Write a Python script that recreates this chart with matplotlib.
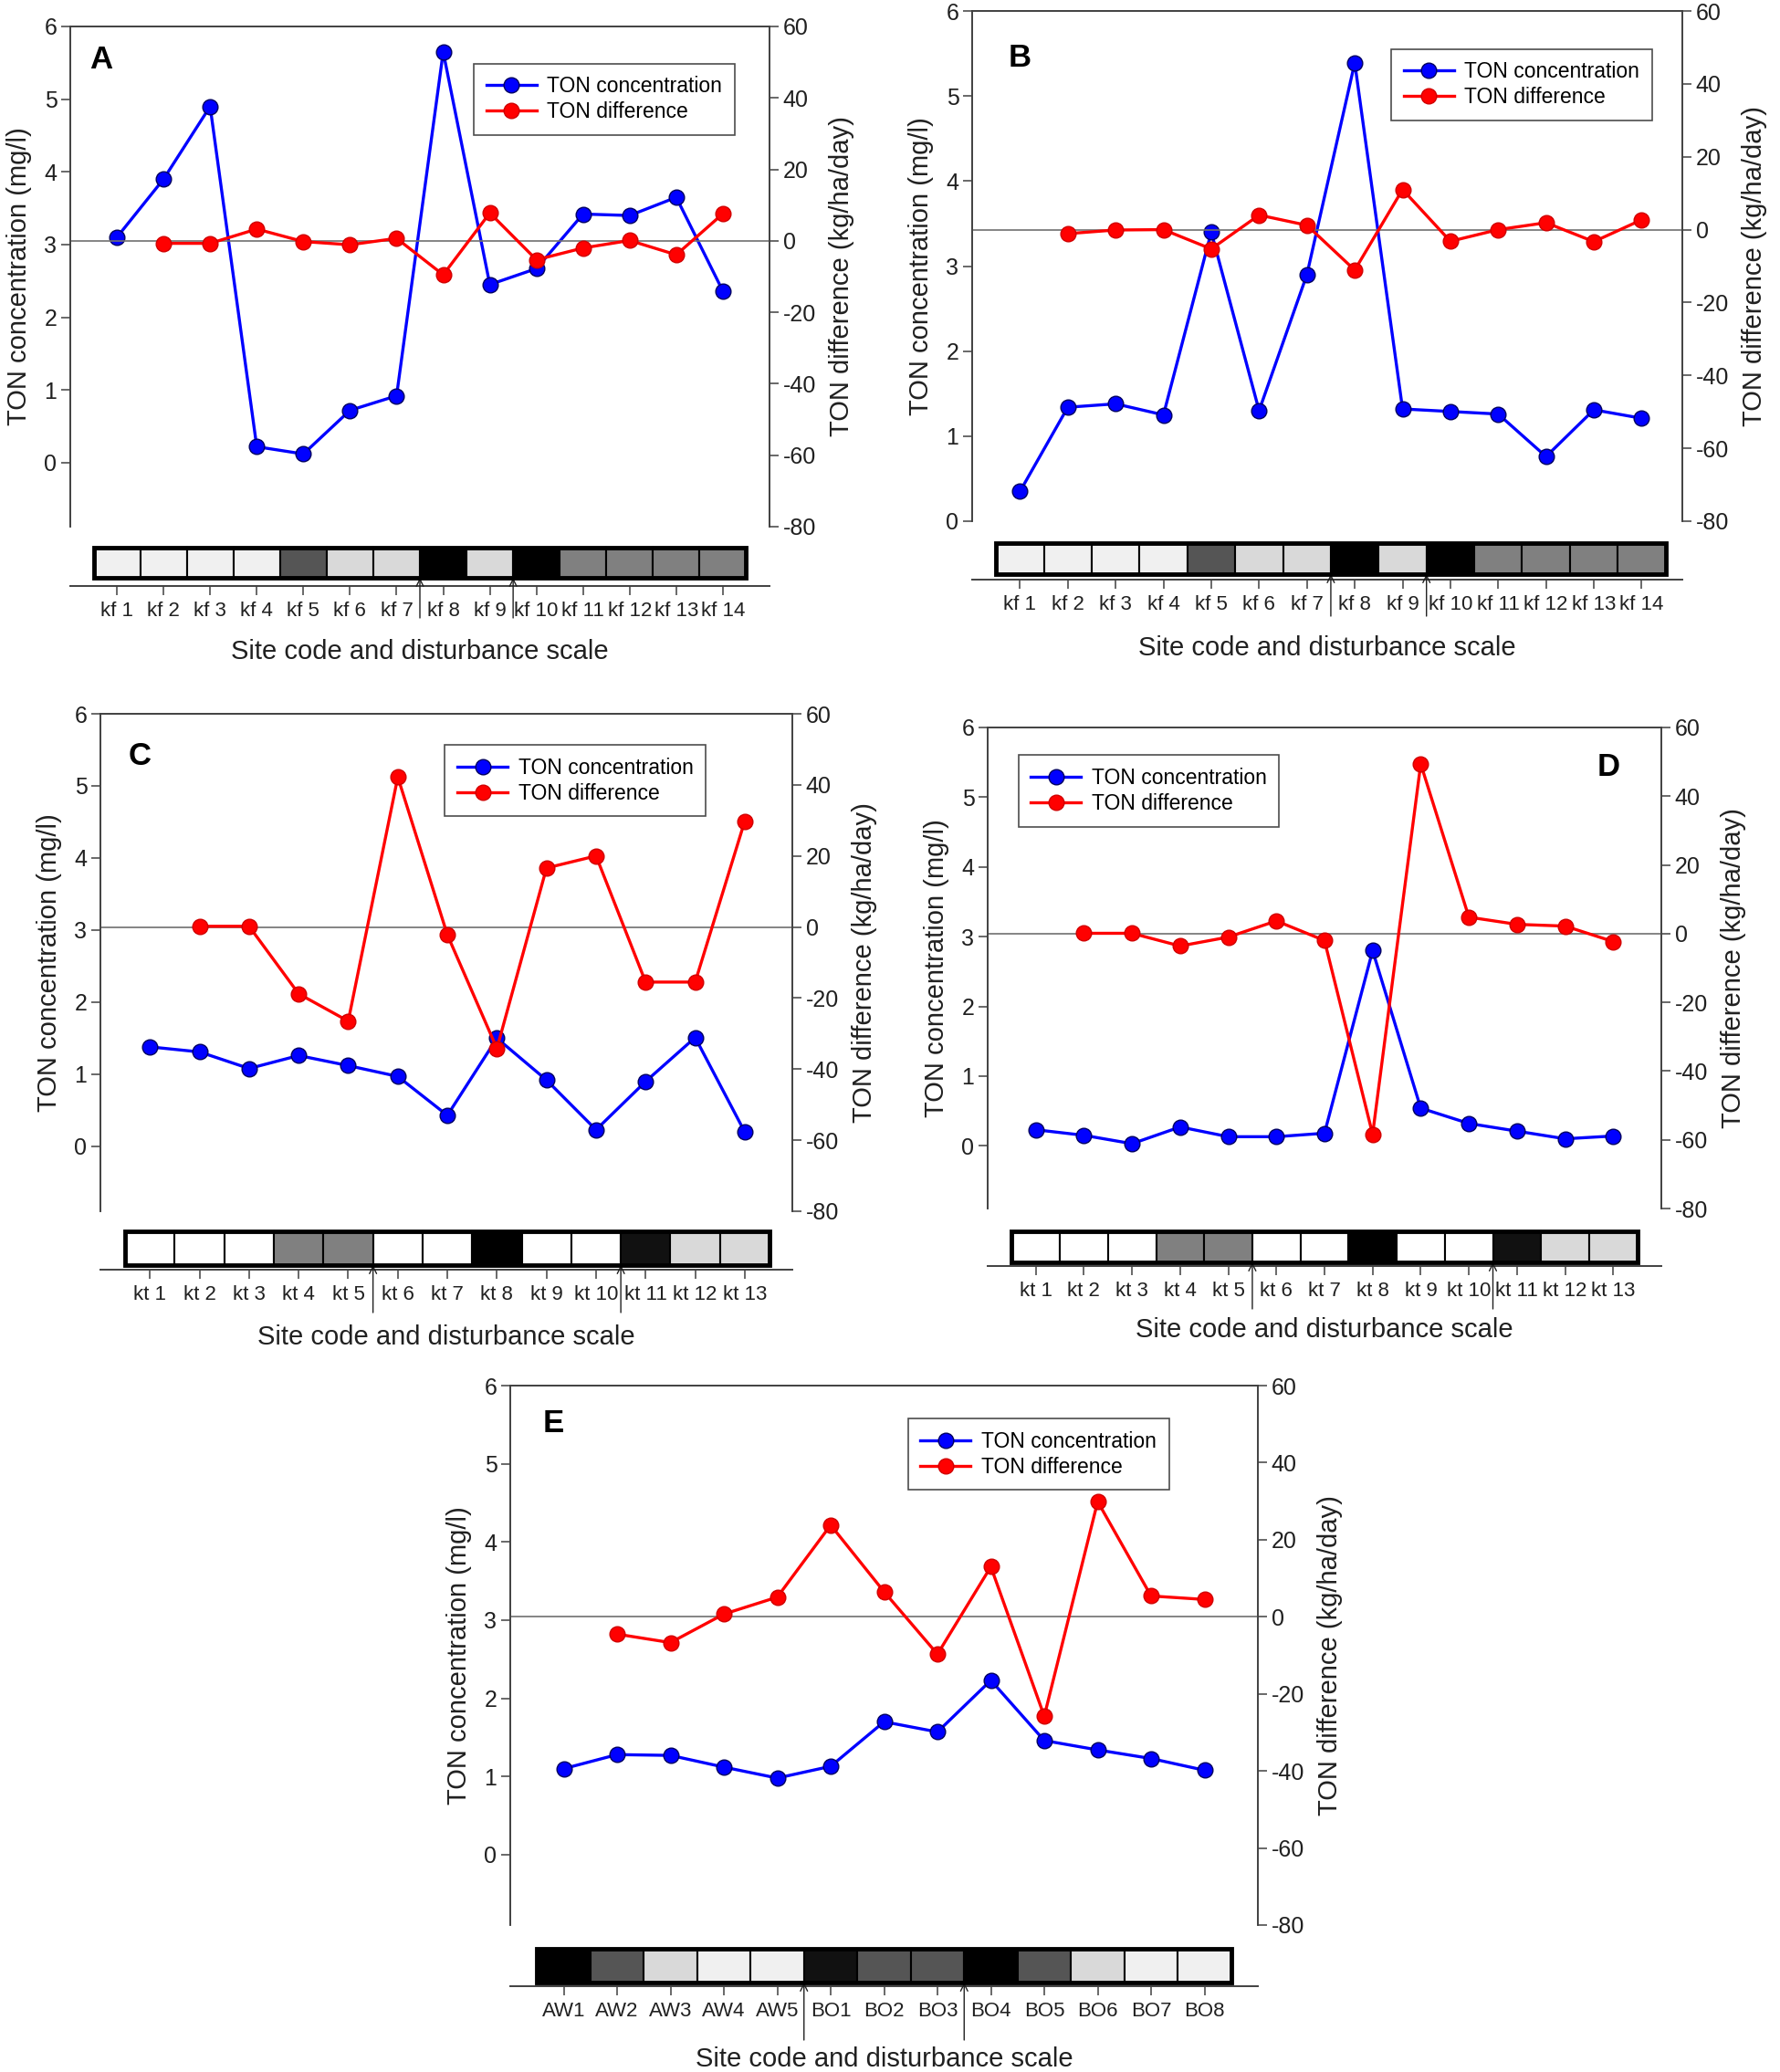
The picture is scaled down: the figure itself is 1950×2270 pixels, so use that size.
import numpy as np
import matplotlib
matplotlib.use("Agg")
import matplotlib.pyplot as plt
from matplotlib.patches import Rectangle
from matplotlib.lines import Line2D

plt.rcParams['font.family'] = ['Liberation Sans', 'DejaVu Sans']
plt.rcParams['axes.unicode_minus'] = False

W, H = 1950, 2270
nan = np.nan

# ---- data ----
kf_sites = ['kf 1', 'kf 2', 'kf 3', 'kf 4', 'kf 5', 'kf 6', 'kf 7',
            'kf 8', 'kf 9', 'kf 10', 'kf 11', 'kf 12', 'kf 13', 'kf 14']
kt_sites = ['kt 1', 'kt 2', 'kt 3', 'kt 4', 'kt 5', 'kt 6', 'kt 7',
            'kt 8', 'kt 9', 'kt 10', 'kt 11', 'kt 12', 'kt 13']
e_sites = ['AW1', 'AW2', 'AW3', 'AW4', 'AW5', 'BO1', 'BO2',
           'BO3', 'BO4', 'BO5', 'BO6', 'BO7', 'BO8']

a_conc = [3.10, 3.90, 4.90, 0.22, 0.12, 0.72, 0.92, 5.65, 2.45, 2.67, 3.42, 3.40, 3.65, 2.36]
a_diff = [nan, -0.7, -0.7, 3.3, -0.2, -1.1, 0.7, -9.5, 7.8, -5.3, -2.0, 0.1, -3.9, 7.6]

b_conc = [0.35, 1.34, 1.38, 1.25, 3.40, 1.30, 2.90, 5.39, 1.32, 1.29, 1.26, 0.76, 1.31, 1.21]
b_diff = [nan, -1.1, -0.1, 0.0, -5.3, 4.0, 1.2, -11.1, 11.0, -3.2, 0.0, 1.9, -3.3, 2.7]

c_conc = [1.38, 1.31, 1.08, 1.26, 1.12, 0.97, 0.43, 1.50, 0.92, 0.23, 0.90, 1.51, 0.20]
c_diff = [nan, 0.2, 0.2, -18.8, -26.5, 42.2, -2.2, -34.2, 16.6, 20.0, -15.5, -15.5, 29.8]

d_conc = [0.23, 0.15, 0.03, 0.27, 0.13, 0.13, 0.18, 2.80, 0.54, 0.32, 0.21, 0.10, 0.14]
d_diff = [nan, 0.1, 0.1, -3.6, -1.0, 3.7, -2.0, -58.4, 49.4, 4.8, 2.7, 2.2, -2.3]

e_conc = [1.10, 1.28, 1.27, 1.12, 0.98, 1.13, 1.70, 1.57, 2.23, 1.46, 1.34, 1.23, 1.08]
e_diff = [nan, -4.5, -6.7, 0.7, 5.1, 23.8, 6.5, -9.7, 13.0, -25.8, 29.9, 5.4, 4.5]

# disturbance scale shades
VL, LG, MG, DG, BK, NB, WH = '#f0f0f0', '#d9d9d9', '#808080', '#555555', '#000000', '#111111', '#ffffff'
kf_shades = [VL, VL, VL, VL, DG, LG, LG, BK, LG, BK, MG, MG, MG, MG]
kt_shades = [WH, WH, WH, MG, MG, WH, WH, BK, WH, WH, NB, LG, LG]
e_shades = [BK, DG, LG, VL, VL, NB, DG, DG, BK, DG, LG, VL, VL]

kf_arrows = [6.5, 8.5]
kt_arrows = [4.5, 9.5]
e_arrows = [4.5, 7.5]

BLUE = '#0000ff'
RED = '#ff0000'
SPINE = '#404040'
TXT = '#202020'


def box(l, r, t, b):
    return [l / W, 1 - b / H, (r - l) / W, (b - t) / H]


def panel(fig, letter, sites, conc, diff, shades, arrows, main, strip,
          arrow_bottom, xlabel_y, ylow, xhigh, leg_loc, leg_anchor, letter_pos):
    n = len(sites)
    x = np.arange(n)
    l, r, t, b = main
    ax = fig.add_axes(box(l, r, t, b))
    ax2 = ax.twinx()

    ax.plot(x, conc, '-o', color=BLUE, lw=2.4, ms=12, mfc=BLUE, mec='#000060', mew=1)
    ax2.plot(x, diff, '-o', color=RED, lw=2.4, ms=12, mfc=RED, mec='#d00000', mew=1)
    ax2.axhline(0, color='#707070', lw=1.2, zorder=0)

    ax.set_xlim(-1, xhigh)
    ax.set_ylim(ylow, 6)
    ax2.set_ylim(-80, 60)
    ax.set_yticks([0, 1, 2, 3, 4, 5, 6])
    ax2.set_yticks([-80, -60, -40, -20, 0, 20, 40, 60])
    ax.set_xticks([])
    for a in (ax, ax2):
        a.spines['bottom'].set_visible(False)
        for s in ('left', 'right', 'top'):
            a.spines[s].set_color(SPINE)
            a.spines[s].set_linewidth(1.2)
        a.tick_params(axis='y', labelsize=18, length=7, width=1.1, color=SPINE,
                      labelcolor=TXT)
    ax.set_ylabel('TON concentration (mg/l)', fontsize=21, color=TXT, labelpad=10)
    ax2.set_ylabel('TON difference (kg/ha/day)', fontsize=21, color=TXT, labelpad=10)

    handles = [Line2D([], [], color=BLUE, lw=2.4, marker='o', ms=12, mfc=BLUE, mec='#000060'),
               Line2D([], [], color=RED, lw=2.4, marker='o', ms=12, mfc=RED, mec='#d00000')]
    leg = ax2.legend(handles, ['TON concentration', 'TON difference'], loc=leg_loc,
                     bbox_to_anchor=leg_anchor, fontsize=16.5, frameon=True, fancybox=False,
                     edgecolor=TXT, handlelength=2.4, borderpad=0.6,
                     labelspacing=0.2, handletextpad=0.5)
    leg.get_frame().set_linewidth(1.2)

    ax.text(letter_pos[0], letter_pos[1], letter, transform=ax.transAxes,
            fontsize=25, fontweight='bold', ha='left', va='center')

    # disturbance strip with site axis
    axis_y, bar_top, bar_bot = strip
    sa = fig.add_axes(box(l, r, bar_top, axis_y))
    sa.set_xlim(-1, xhigh)
    sa.set_ylim(0, 1)
    b0 = (axis_y - bar_bot) / (axis_y - bar_top)
    sa.bar(x, 1 - b0, bottom=b0, width=1.0, color=shades, edgecolor='black',
           linewidth=1.5, clip_on=False)
    sa.add_patch(Rectangle((-0.5, b0), n, 1 - b0, fill=False, edgecolor='black',
                           lw=3.5, clip_on=False, zorder=5))
    for s in ('left', 'right', 'top'):
        sa.spines[s].set_visible(False)
    sa.spines['bottom'].set_color(SPINE)
    sa.spines['bottom'].set_linewidth(1.4)
    sa.set_yticks([])
    sa.set_xticks(x)
    sa.set_xticklabels(sites)
    sa.tick_params(axis='x', labelsize=16, length=7, width=1.1, color=SPINE,
                   labelcolor=TXT, pad=5)
    ab = (axis_y - arrow_bottom) / (axis_y - bar_top)
    for xa in arrows:
        sa.annotate('', xy=(xa, b0), xycoords=('data', 'axes fraction'),
                    xytext=(xa, ab), textcoords=('data', 'axes fraction'),
                    arrowprops=dict(arrowstyle='->', lw=1.0, color=TXT,
                                    mutation_scale=14, shrinkA=0, shrinkB=0),
                    annotation_clip=False)
    fig.text((l + r) / 2 / W, 1 - xlabel_y / H, 'Site code and disturbance scale',
             fontsize=21, color=TXT, ha='center', va='center')


fig = plt.figure(figsize=(W / 100, H / 100), dpi=100)

panel(fig, 'A', kf_sites, a_conc, a_diff, kf_shades, kf_arrows,
      (77, 843, 29, 577), (642, 600, 633), 677, 714, -0.88, 14.0,
      'upper right', (0.965, 0.947), (0.028, 0.934))
panel(fig, 'B', kf_sites, b_conc, b_diff, kf_shades, kf_arrows,
      (1065, 1843, 12, 571), (635, 595, 629), 675, 710, 0.0, 13.85,
      'upper right', (0.972, 0.946), (0.051, 0.907))
panel(fig, 'C', kt_sites, c_conc, c_diff, kt_shades, kt_arrows,
      (110, 868, 782, 1327), (1391, 1349, 1386), 1438, 1465, -0.90, 12.96,
      'upper right', (0.890, 0.958), (0.040, 0.914))
panel(fig, 'D', kt_sites, d_conc, d_diff, kt_shades, kt_arrows,
      (1082, 1820, 797, 1324), (1387, 1349, 1383), 1434, 1457, -0.90, 13.0,
      'upper left', (0.030, 0.964), (0.904, 0.918))
panel(fig, 'E', e_sites, e_conc, e_diff, e_shades, e_arrows,
      (559, 1378, 1518, 2109), (2176, 2135, 2172), 2235, 2256, -0.90, 13.0,
      'upper right', (0.895, 0.958), (0.043, 0.929))

fig.savefig('out.png', dpi=100)
